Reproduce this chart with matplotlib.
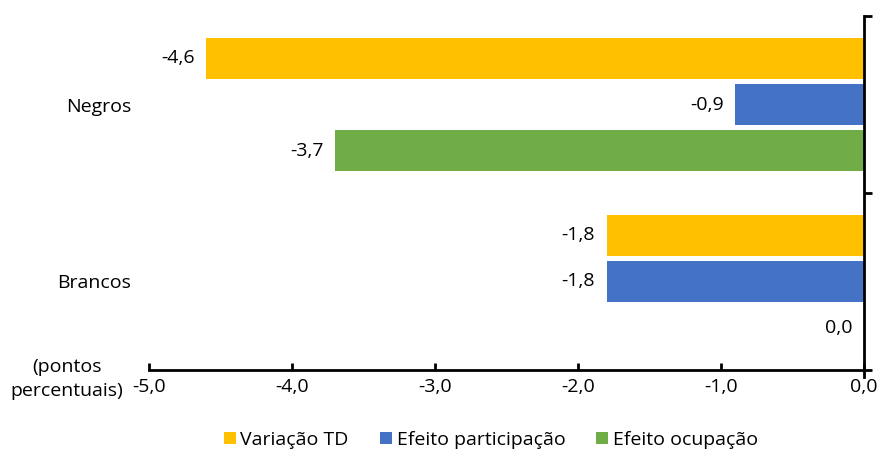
import matplotlib
matplotlib.use("Agg")
import matplotlib.pyplot as plt
import numpy as np

plt.rcParams['font.family'] = ['Open Sans', 'DejaVu Sans']

categories = ["Negros", "Brancos"]
series_names = ["Variação TD", "Efeito participação", "Efeito ocupação"]
variacao_td = [-4.6, -1.8]
efeito_participacao = [-0.9, -1.8]
efeito_ocupacao = [-3.7, 0.0]
colors = ["#FFC000", "#4472C4", "#70AD47"]
xtick_vals = [-5, -4, -3, -2, -1, 0]

fig = plt.figure(figsize=(8.79, 4.51), dpi=100)
ax = fig.add_axes([149/879, 1-370/451, (864-149)/879, (370-16)/451])

centers = np.array([1.5, 0.5])
offsets = [0.26, 0.0, -0.26]
height = 0.237
fs = 14

def fmt(v):
    return f"{v:.1f}".replace(".", ",")

for vals, off, col, name in zip([variacao_td, efeito_participacao, efeito_ocupacao], offsets, colors, series_names):
    ys = centers + off
    ax.barh(ys, vals, height=height, color=col, label=name, edgecolor='none')
    for y, v in zip(ys, vals):
        ax.text(v - 0.08, y, fmt(v), ha='right', va='center', fontsize=fs)

ax.set_xlim(-5, 0)
ax.set_ylim(0, 2)
ax.set_xticks(xtick_vals)
ax.set_xticklabels([fmt(v) for v in xtick_vals], fontsize=fs)
ax.tick_params(axis='x', direction='in', length=5, width=2, pad=6)

# category labels on left
ax.set_yticks(centers)
ax.set_yticklabels(categories, fontsize=fs)
ax.tick_params(axis='y', left=False, length=0, pad=13)

# right axis ticks at boundaries
ax2 = ax.twinx()
ax2.set_ylim(0, 2)
ax2.set_yticks([0, 1, 2])
ax2.set_yticklabels([])
ax2.tick_params(axis='y', direction='out', length=6, width=2)
for a in (ax, ax2):
    a.spines['top'].set_visible(False)
    a.spines['left'].set_visible(False)
ax.spines['right'].set_visible(False)
ax2.spines['bottom'].set_visible(False)
ax2.spines['right'].set_linewidth(2)
ax2.spines['right'].set_bounds(-0.04, 2)
ax.spines['bottom'].set_linewidth(2)

fig.text(67/879, 1-379/451, "(pontos\npercentuais)", ha='center', va='center', fontsize=fs, linespacing=1.45)

handles, labels = ax.get_legend_handles_labels()
fig.legend(handles, labels, loc='center', bbox_to_anchor=(491/879, 1-440/451), ncol=3,
           frameon=False, fontsize=fs, handlelength=0.6, handleheight=0.6,
           handletextpad=0.25, columnspacing=1.6, borderaxespad=0)

fig.savefig("out.png", dpi=100)
